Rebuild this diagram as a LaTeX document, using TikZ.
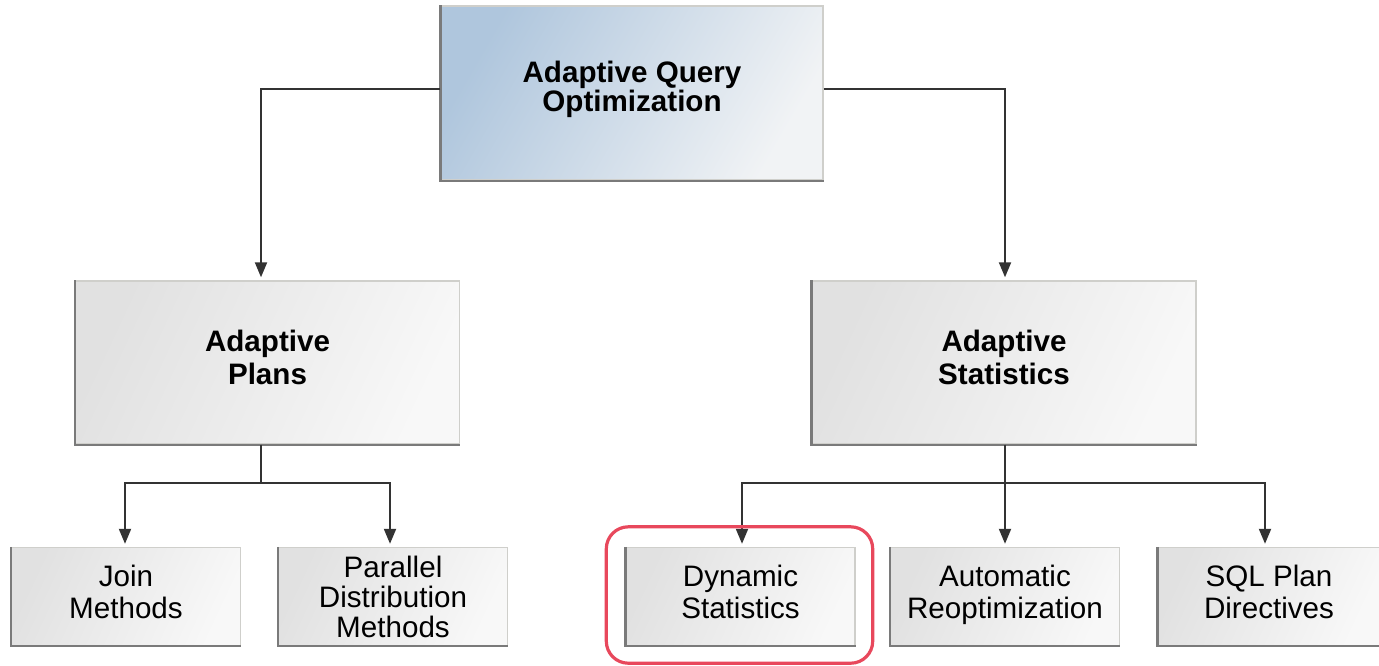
\documentclass[tikz,border=0pt]{standalone}
\usepackage{fontspec}
\setmainfont{Liberation Sans}
\usetikzlibrary{arrows.meta,calc}
\definecolor{edgeL}{HTML}{CFCFCB}
\definecolor{edgeD}{HTML}{7A7A7A}
\definecolor{blueA}{HTML}{AFC6DD}
\definecolor{blueB}{HTML}{F1F3F5}
\definecolor{grayA}{HTML}{E1E1E1}
\definecolor{grayB}{HTML}{F8F8F8}
\definecolor{hl}{HTML}{E8485C}
\definecolor{conn}{HTML}{333333}
\begin{document}
\begin{tikzpicture}[x=0.5pt,y=-0.5pt,
  box/.style={draw=edgeL, line width=0.7pt, align=center, inner sep=0pt,
    left color=grayA, right color=grayB, shading angle=65},
  topbox/.style={box, left color=blueA, right color=blueB, shading angle=60,
    minimum width=191pt, minimum height=87pt, text depth=6.8pt,
    font={\fontsize{14.8pt}{14.8pt}\selectfont\bfseries}},
  midbox/.style={box, minimum width=192pt, minimum height=81.5pt, text depth=5pt,
    font={\fontsize{14.8pt}{16.5pt}\selectfont\bfseries}},
  leafbox/.style={box, minimum width=114.5pt, minimum height=49pt, text depth=5pt,
    font={\fontsize{14.8pt}{16pt}\selectfont}},
  conn/.style={draw=conn, line width=1pt},
  arr/.style={conn, -{Triangle[width=6pt,length=7.5pt]}, shorten >=1.5pt},
  shadowedge/.style={draw=edgeD, line width=1.2pt},
  highlight/.style={draw=hl, line width=1.6pt, rounded corners=11pt}
]
\useasboundingbox (0,0) rectangle (1379,665);

% boxes
\node[topbox] (aqo) at (632,93) {Adaptive Query\\Optimization};
\node[midbox] (ap) at (267.5,362.5) {Adaptive\\Plans};
\node[midbox] (as) at (1004,362.5) {Adaptive\\Statistics};
\node[leafbox] (jm) at (126,596.5) {Join\\Methods};
\node[leafbox, text depth=0pt, font={\fontsize{14.8pt}{15pt}\selectfont}] (pd) at (393,596.5) {Parallel\\Distribution\\Methods};
\node[leafbox] (ds) at (740.5,596.5) {Dynamic\\Statistics};
\node[leafbox] (ar) at (1005,596.5) {Automatic\\Reoptimization};
\node[leafbox, minimum width=111pt] (sq) at (1269,596.5) {SQL Plan\\Directives};

% darker left and bottom edges
\foreach \n in {aqo,ap,as,jm,pd,ds,ar,sq}{
  \draw[shadowedge] (\n.north west) -- (\n.south west) -- (\n.south east);
}

% junction coordinates
\coordinate (apx) at (261,0);
\coordinate (asx) at (1005,0);
\coordinate (jmx) at (125,0);
\coordinate (pdx) at (390,0);
\coordinate (dsx) at (742,0);
\coordinate (arx) at (1005,0);
\coordinate (sqx) at (1265,0);
\coordinate (busL) at (0,483);

% connectors from the top box
\draw[arr] ($(aqo.west)+(0,-4)$) -| (ap.north -| apx);
\draw[arr] ($(aqo.east)+(0,-4)$) -| (as.north -| asx);

% Adaptive Plans tree
\draw[conn] (ap.south -| apx) -- (apx |- busL);
\draw[arr] (apx |- busL) -| (jm.north -| jmx);
\draw[arr] (apx |- busL) -| (pd.north -| pdx);

% Adaptive Statistics tree
\draw[conn] (as.south -| asx) -- (asx |- busL);
\draw[arr] (asx |- busL) -| (ds.north -| dsx);
\draw[arr] (asx |- busL) -- (ar.north -| arx);
\draw[arr] (asx |- busL) -| (sq.north -| sqx);

% highlight
\draw[highlight] ($(ds.north west)+(-19,-20)$) rectangle ($(ds.south east)+(17,17)$);
\end{tikzpicture}
\end{document}
